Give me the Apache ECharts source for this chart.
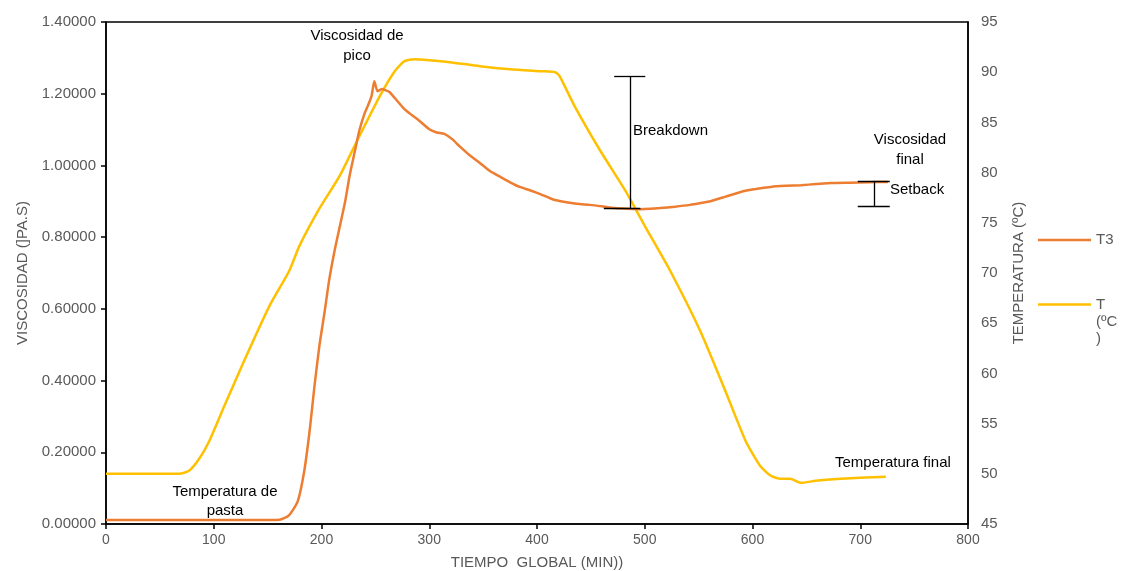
<!DOCTYPE html>
<html><head><meta charset="utf-8">
<script src="https://cdn.jsdelivr.net/npm/echarts@6/dist/echarts.min.js"></script>
<style>html,body{margin:0;padding:0;background:#fff}#c{width:1122px;height:571px}</style>
</head><body><div id="c"></div>
<script>
// Viscosity (T3), Pa.s, vs time (min)
const viscTime = [0,20,40,60,80,100,120,140,161,170,178,184,189,193.5,198,203,207,212,217,222,226,231,235,240,243,246.5,249,252,256,259,263,268,277,284,291,300,307,314,321,328,337,347,356,366,375,384,394,403,415,426,437,449,460,472,484,496,505,514,528,542,552,561,575,589,603,617,631,645,659,673,690,708,725.6];
const viscVal  = [0.011,0.011,0.011,0.011,0.011,0.011,0.011,0.011,0.012,0.025,0.064,0.148,0.26,0.385,0.496,0.594,0.678,0.76,0.83,0.9,0.97,1.04,1.096,1.145,1.166,1.194,1.235,1.207,1.213,1.21,1.205,1.188,1.157,1.14,1.124,1.101,1.092,1.088,1.074,1.054,1.03,1.007,0.985,0.968,0.953,0.94,0.93,0.92,0.905,0.898,0.893,0.89,0.886,0.881,0.879,0.878,0.879,0.881,0.885,0.89,0.895,0.90,0.913,0.926,0.934,0.94,0.943,0.945,0.948,0.951,0.952,0.953,0.954];
// Temperature T (ºC) vs time (min)
const tempTime = [0,20,40,60,68,77,86.5,96,110,128,151.6,170,179.5,198,217,235,254,268,277,286.5,300,319,347,375,403,417,421,435,458.6,482,500,523.7,551.6,575,593.5,607,617,626,635,645,658.6,682,700,723.7];
const tempVal  = [50,50,50,50,50,50.3,51.5,53.3,56.8,61.2,66.7,70.2,72.7,76.4,79.7,83.6,87.6,90.1,91.1,91.3,91.2,91.0,90.6,90.3,90.1,90.0,89.6,86.6,82.2,78.2,74.7,70.2,64.2,58.2,53.3,50.8,49.8,49.5,49.5,49.1,49.3,49.5,49.6,49.7];
// Annotation brackets (data space)
const breakdownX = 486.5, breakdownTop = 1.249, breakdownBottom = 0.881;
const breakdownTopCap = [471.6, 500.5], breakdownBottomCap = [462, 496];
const setbackX = 712.6, setbackTop = 0.957, setbackBottom = 0.887;
const setbackCap = [697.7, 727.4];
const xTicks = {min:0, max:800, interval:100};
const yLeft = {min:0, max:1.4, interval:0.2};
const yRight = {min:45, max:95, interval:5};

const zip = (a,b)=>a.map((v,i)=>[v,b[i]]);
const seg = (x1,y1,x2,y2)=>[{coord:[x1,y1]},{coord:[x2,y2]}];
const gray = '#595959';
const font = 'Liberation Sans, Arial, sans-serif';
const legendText = {color:gray,fontSize:15,fontFamily:font,lineHeight:17};

const chart = echarts.init(document.getElementById('c'));
chart.setOption({
  animation:false,
  textStyle:{fontFamily:font},
  grid:{left:106,right:154,top:22,bottom:47,outerBoundsMode:'none',containLabel:false,
    show:true,borderColor:'#000',borderWidth:1.5,backgroundColor:'transparent'},
  legend:[
    {orient:'vertical',left:1038,top:231,padding:0,itemWidth:53,itemHeight:2.5,icon:'rect',
     textStyle:{color:gray,fontSize:15,fontFamily:font,lineHeight:18},data:['T3']},
    {orient:'vertical',left:1038,top:262,padding:0,itemWidth:53,itemHeight:2.5,icon:'rect',
     textStyle:legendText,formatter:()=>' \n \nT\n(ºC\n)',data:['T (ºC )']}
  ],
  xAxis:{type:'value',min:xTicks.min,max:xTicks.max,interval:xTicks.interval,
    name:'TIEMPO  GLOBAL (MIN))',nameLocation:'middle',nameGap:31,
    nameTextStyle:{color:gray,fontSize:15},
    axisLine:{lineStyle:{color:'#000',width:1.5}},axisTick:{show:true,length:5,lineStyle:{color:'#000',width:1.5}},
    axisLabel:{color:gray,fontSize:14,margin:9},splitLine:{show:false}},
  yAxis:[{type:'value',min:yLeft.min,max:yLeft.max,interval:yLeft.interval,
    name:'VISCOSIDAD (]PA.S)',nameLocation:'middle',nameGap:76,nameRotate:90,
    nameTextStyle:{color:gray,fontSize:15},
    axisLine:{show:true,lineStyle:{color:'#000',width:1.5}},axisTick:{show:true,length:5,lineStyle:{color:'#000',width:1.5}},
    axisLabel:{color:gray,fontSize:15,margin:10,formatter:v=>v.toFixed(5)},splitLine:{show:false}},
   {type:'value',position:'right',min:yRight.min,max:yRight.max,interval:yRight.interval,
    name:'TEMPERATURA (ºC)',nameLocation:'middle',nameGap:43,nameRotate:90,
    nameTextStyle:{color:gray,fontSize:15},
    axisLine:{show:true,lineStyle:{color:'#000',width:1.5}},axisTick:{show:false},
    axisLabel:{color:gray,fontSize:15,margin:13},splitLine:{show:false}}],
  series:[
    {name:'T3',type:'line',yAxisIndex:0,data:zip(viscTime,viscVal),symbol:'none',
     lineStyle:{color:'#ED7D31',width:2.5},itemStyle:{color:'#ED7D31'},smooth:0.2,z:3,
     markLine:{silent:true,symbol:'none',label:{show:false},lineStyle:{color:'#000',width:1.3,type:'solid'},
       data:[seg(breakdownX,breakdownTop,breakdownX,breakdownBottom),
             seg(breakdownTopCap[0],breakdownTop,breakdownTopCap[1],breakdownTop),
             seg(breakdownBottomCap[0],breakdownBottom,breakdownBottomCap[1],breakdownBottom),
             seg(setbackX,setbackTop,setbackX,setbackBottom),
             seg(setbackCap[0],setbackTop,setbackCap[1],setbackTop),
             seg(setbackCap[0],setbackBottom,setbackCap[1],setbackBottom)]}},
    {name:'T (ºC )',type:'line',yAxisIndex:1,data:zip(tempTime,tempVal),symbol:'none',
     lineStyle:{color:'#FFC000',width:2.5},itemStyle:{color:'#FFC000'},smooth:0.2,z:2}
  ],
  graphic:[
    {type:'text',style:{text:'Viscosidad de\npico',x:357,y:26,align:'center',font:'15px '+font,fill:'#000',lineHeight:20}},
    {type:'text',style:{text:'Breakdown',x:633,y:123,font:'15px '+font,fill:'#000'}},
    {type:'text',style:{text:'Viscosidad\nfinal',x:910,y:130,align:'center',font:'15px '+font,fill:'#000',lineHeight:20}},
    {type:'text',style:{text:'Setback',x:890,y:182,font:'15px '+font,fill:'#000'}},
    {type:'text',style:{text:'Temperatura final',x:835,y:455,font:'15px '+font,fill:'#000'}},
    {type:'text',style:{text:'Temperatura de\npasta',x:225,y:482,align:'center',font:'15px '+font,fill:'#000',lineHeight:19}}
  ]
});
</script></body></html>
